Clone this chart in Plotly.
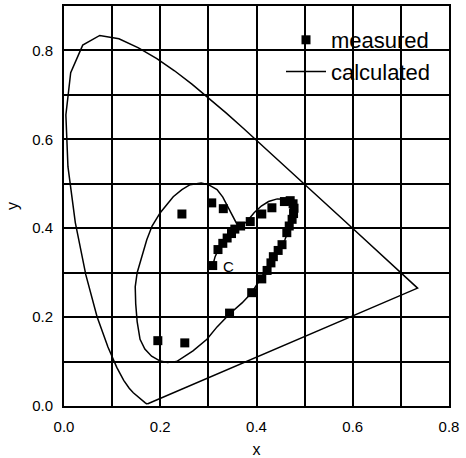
import plotly.graph_objects as go

# CIE 1931 spectral locus (horseshoe + purple line)
locus_x = [0.1741, 0.1738, 0.1733, 0.1726, 0.1714, 0.1689, 0.1644, 0.1566, 0.1440, 0.1355,
           0.1241, 0.1096, 0.0913, 0.0687, 0.0454, 0.0235, 0.0082, 0.0039, 0.0139, 0.0389,
           0.0743, 0.1142, 0.1547, 0.1929, 0.2296, 0.2658, 0.3016, 0.3373, 0.3731, 0.4087,
           0.4441, 0.4788, 0.5125, 0.5448, 0.5752, 0.6029, 0.6270, 0.6482, 0.6658, 0.6801,
           0.6915, 0.7006, 0.7079, 0.7140, 0.7190, 0.7260, 0.7300, 0.7347, 0.1741]
locus_y = [0.0050, 0.0049, 0.0048, 0.0048, 0.0051, 0.0069, 0.0109, 0.0177, 0.0297, 0.0399,
           0.0578, 0.0868, 0.1327, 0.2007, 0.2950, 0.4127, 0.5384, 0.6548, 0.7502, 0.8120,
           0.8338, 0.8262, 0.8059, 0.7816, 0.7543, 0.7243, 0.6923, 0.6589, 0.6245, 0.5896,
           0.5547, 0.5202, 0.4866, 0.4544, 0.4242, 0.3965, 0.3725, 0.3514, 0.3340, 0.3197,
           0.3083, 0.2993, 0.2920, 0.2859, 0.2809, 0.2740, 0.2700, 0.2653, 0.0050]

# calculated path (starting at C)
calc_x = [0.309, 0.314, 0.324, 0.340, 0.360, 0.380, 0.395, 0.410, 0.425, 0.443, 0.460, 0.472,
          0.477, 0.475, 0.470, 0.459, 0.443, 0.424, 0.407, 0.390, 0.370, 0.345, 0.318, 0.297,
          0.268, 0.234, 0.215, 0.200, 0.182, 0.168, 0.158, 0.152, 0.149, 0.148, 0.152, 0.158,
          0.172, 0.183, 0.200, 0.227, 0.245, 0.262, 0.285, 0.300, 0.318, 0.330, 0.340, 0.350,
          0.358, 0.368]
calc_y = [0.316, 0.336, 0.360, 0.380, 0.398, 0.415, 0.435, 0.450, 0.460, 0.466, 0.465, 0.457,
          0.442, 0.422, 0.403, 0.374, 0.345, 0.313, 0.284, 0.255, 0.232, 0.208, 0.178, 0.150,
          0.124, 0.100, 0.098, 0.101, 0.112, 0.128, 0.150, 0.190, 0.230, 0.268, 0.300, 0.322,
          0.374, 0.405, 0.435, 0.471, 0.487, 0.498, 0.502, 0.498, 0.487, 0.470, 0.448, 0.428,
          0.412, 0.405]

# measured points
meas_x = [0.195, 0.251, 0.344, 0.390, 0.411, 0.422, 0.430, 0.435, 0.445, 0.453, 0.463, 0.468,
          0.474, 0.477, 0.478, 0.476, 0.470, 0.458, 0.432, 0.411, 0.387, 0.367, 0.355, 0.348,
          0.339, 0.330, 0.320, 0.309, 0.245, 0.307, 0.331]
meas_y = [0.147, 0.142, 0.209, 0.255, 0.286, 0.305, 0.322, 0.336, 0.350, 0.363, 0.390, 0.405,
          0.420, 0.433, 0.445, 0.455, 0.462, 0.460, 0.446, 0.432, 0.415, 0.405, 0.398, 0.388,
          0.378, 0.366, 0.352, 0.316, 0.432, 0.457, 0.444]

x_ticks = [0.0, 0.1, 0.2, 0.3, 0.4, 0.5, 0.6, 0.7, 0.8]
x_labels = ["0.0", "", "0.2", "", "0.4", "", "0.6", "", "0.8"]
y_ticks = [0.0, 0.1, 0.2, 0.3, 0.4, 0.5, 0.6, 0.7, 0.8, 0.9]
y_labels = ["0.0", "", "0.2", "", "0.4", "", "0.6", "", "0.8", ""]

FONT = "Liberation Sans, Arial, sans-serif"

fig = go.Figure()
fig.add_trace(go.Scatter(x=locus_x, y=locus_y, mode="lines",
                         line=dict(color="black", width=1.5), showlegend=False))
fig.add_trace(go.Scatter(x=meas_x, y=meas_y, mode="markers", name="measured",
                         marker=dict(symbol="square", size=9, color="black")))
fig.add_trace(go.Scatter(x=calc_x, y=calc_y, mode="lines", name="calculated",
                         line=dict(color="black", width=1.5)))

fig.add_annotation(x=0.341, y=0.315, text="C", showarrow=False,
                   font=dict(family=FONT, size=15, color="black"))

axis_common = dict(showline=True, mirror=True, linecolor="black", linewidth=2,
                   showgrid=True, gridcolor="black", gridwidth=2, zeroline=False,
                   ticks="", tickfont=dict(family=FONT, size=15, color="black"),
                   tickmode="array", automargin=False)

fig.update_xaxes(range=[0, 0.8], tickvals=x_ticks, ticktext=x_labels,
                 title=dict(text="x", font=dict(family=FONT, size=16, color="black"), standoff=21),
                 ticklabelstandoff=6, **axis_common)
fig.update_yaxes(range=[0, 0.9], tickvals=y_ticks, ticktext=y_labels,
                 title=dict(text="y", font=dict(family=FONT, size=16, color="black"), standoff=10),
                 ticklabelstandoff=6, **axis_common)

fig.update_layout(
    width=466, height=458,
    margin=dict(l=64, r=17, t=6, b=52),
    paper_bgcolor="white", plot_bgcolor="white",
    showlegend=True,
    legend=dict(x=(281 - 64) / 385, y=(406 - 19) / 400, xanchor="left", yanchor="top",
                bgcolor="rgba(0,0,0,0)", borderwidth=0, itemwidth=40,
                font=dict(family=FONT, size=22, color="black")),
)

fig.write_html("out.html")
